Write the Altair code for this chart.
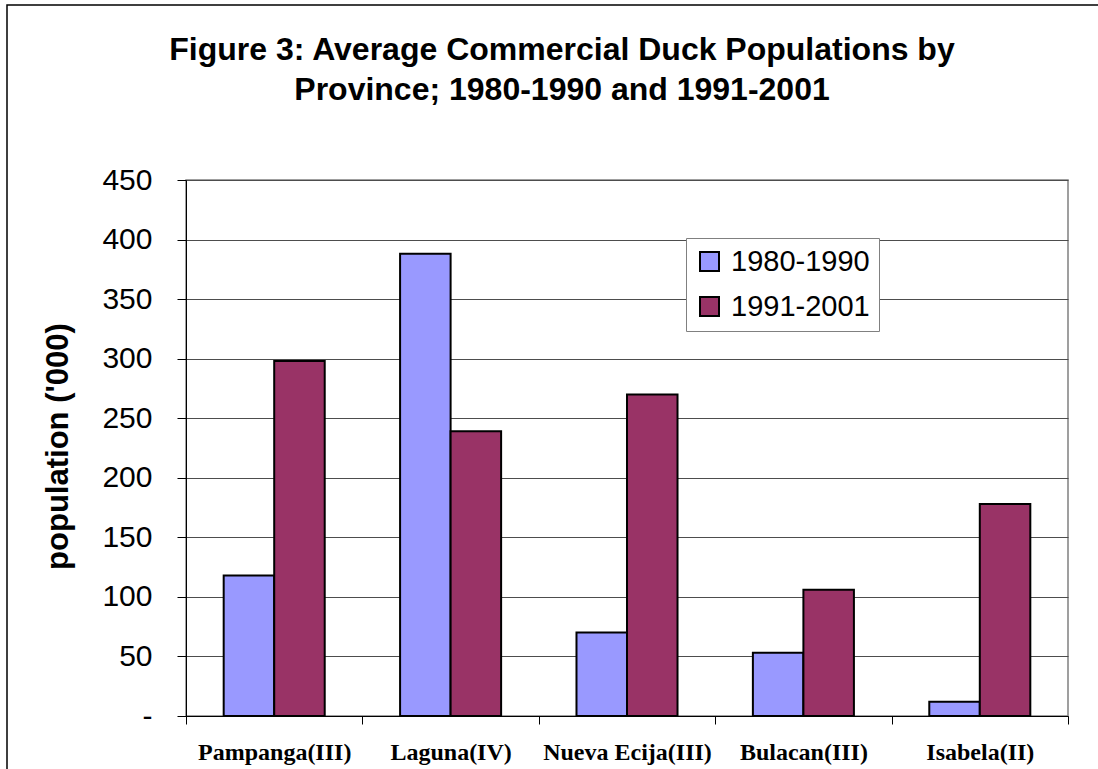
import altair as alt
import pandas as pd

# Average commercial duck populations ('000 head) by province
provinces = ["Pampanga(III)", "Laguna(IV)", "Nueva Ecija(III)", "Bulacan(III)", "Isabela(II)"]
periods = ["1980-1990", "1991-2001"]
pop_1980_1990 = [118, 388, 70, 53, 12]
pop_1991_2001 = [298, 239, 270, 106, 178]
y_ticks = [0, 50, 100, 150, 200, 250, 300, 350, 400, 450]
period_colors = ["#9999FF", "#993366"]

rows = []
for prov, a, b in zip(provinces, pop_1980_1990, pop_1991_2001):
    rows.append({"province": prov, "period": periods[0], "population": a})
    rows.append({"province": prov, "period": periods[1], "population": b})
df = pd.DataFrame(rows)

sans = "Liberation Sans"
serif = "Liberation Serif"

bars = alt.Chart(df).mark_bar(stroke="black", strokeWidth=2).encode(
    x=alt.X(
        "province:N",
        sort=provinces,
        title=None,
        scale=alt.Scale(paddingInner=0, paddingOuter=0),
        axis=alt.Axis(
            tickBand="extent",
            labelAngle=0,
            labelFont=serif,
            labelFontWeight="bold",
            labelFontSize=24,
            labelColor="black",
            labelBaseline="alphabetic",
            labelPadding=35,
            tickColor="black",
            tickSize=8,
            domainColor="black",
            grid=False,
        ),
    ),
    xOffset=alt.XOffset(
        "period:N",
        sort=periods,
        scale=alt.Scale(paddingInner=0, paddingOuter=0.746),
    ),
    y=alt.Y(
        "population:Q",
        scale=alt.Scale(domain=[0, 450], nice=False),
        axis=alt.Axis(
            values=y_ticks,
            labelExpr="datum.value === 0 ? '-\u00a0\u00a0\u00a0\u00a0' : datum.label",
            labelFont=sans,
            labelFontSize=30,
            labelColor="black",
            labelPadding=25,
            tickSize=9,
            tickColor="black",
            domainColor="black",
            gridColor="#4d4d4d",
            title="population ('000)",
            titleFont=sans,
            titleFontSize=31,
            titleFontWeight="bold",
            titleColor="black",
            titleAngle=270,
            titleAlign="center",
            titleBaseline="alphabetic",
            titleX=-119,
            titleY=266,
        ),
    ),
    color=alt.Color(
        "period:N",
        sort=periods,
        scale=alt.Scale(domain=periods, range=period_colors),
        legend=alt.Legend(
            title=None,
            orient="none",
            legendX=500,
            legendY=58,
            symbolType="square",
            symbolSize=361,
            symbolStrokeColor="black",
            symbolStrokeWidth=2,
            labelFont=sans,
            labelFontSize=29,
            labelColor="black",
            labelOffset=7,
            padding=9,
            rowPadding=15,
            strokeColor="#808080",
            fillColor="white",
        ),
    ),
)

# outer frame around the whole figure
frame = alt.Chart(alt.Data(values=[{}])).mark_rect(
    fillOpacity=0, stroke="black", strokeWidth=1.5
).encode(
    x=alt.value(-179), x2=alt.value(930), y=alt.value(-175), y2=alt.value(620)
)

chart = alt.layer(frame, bars).properties(
    width=882,
    height=536,
    autosize=alt.AutoSizeParams(type="none"),
    padding={"left": 186, "top": 180, "right": 30, "bottom": 53},
    title=alt.TitleParams(
        text=[
            "Figure 3: Average Commercial Duck Populations by",
            "Province; 1980-1990 and 1991-2001",
        ],
        anchor="middle",
        font=sans,
        fontSize=32,
        fontWeight="bold",
        color="black",
        lineHeight=40,
        dx=-65,
        offset=-103,
    ),
).configure_view(stroke="#808080", strokeWidth=1.5)

chart.save("out.html", embed_options={"renderer": "svg", "actions": False})
